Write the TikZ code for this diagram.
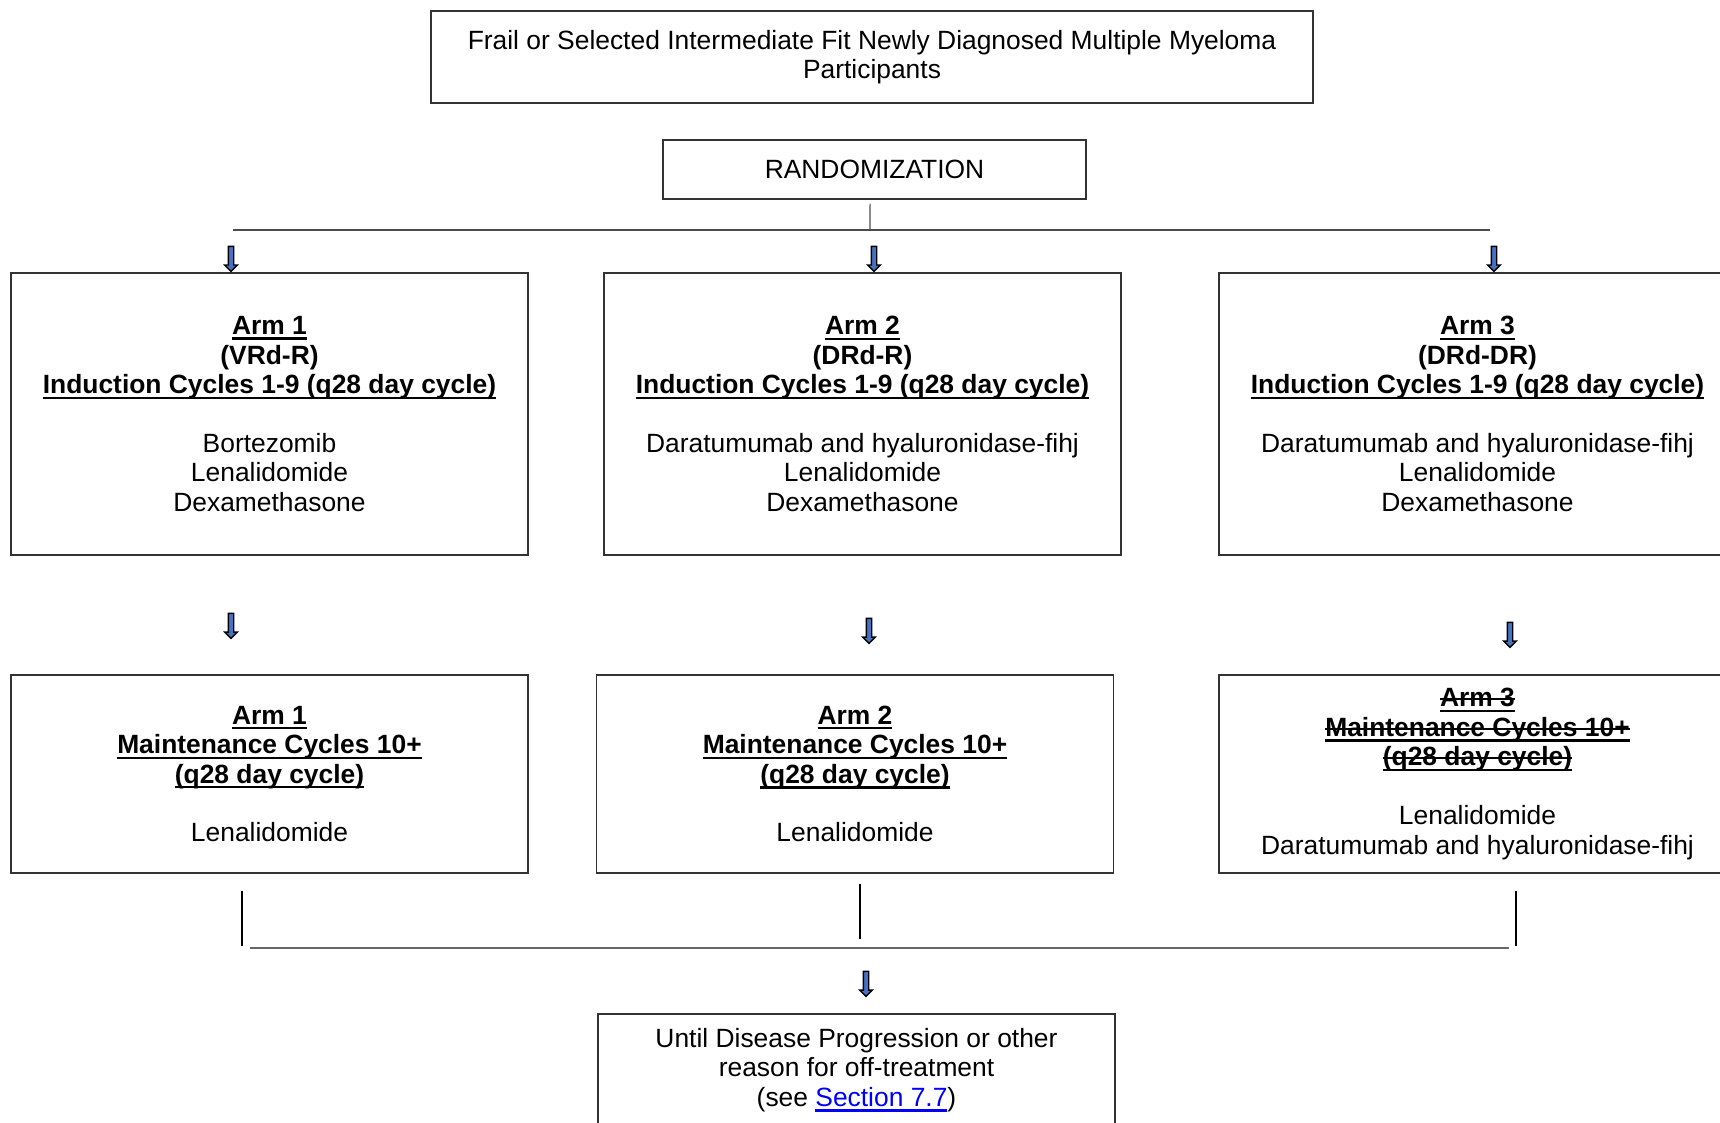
\documentclass[tikz,border=0pt]{standalone}
\usepackage{fontspec}
\setmainfont{Liberation Sans}
\usetikzlibrary{positioning,shapes.arrows}
\definecolor{armblue}{HTML}{4472C4}
\newcommand{\ulinebox}[1]{\sbox0{#1}\rlap{\usebox0}\rule[-2.6pt]{\wd0}{1.1pt}}
\newcommand{\armhead}[1]{\ulinebox{\textbf{#1}}}
\newcommand{\armstruck}[1]{\sbox0{\textbf{#1}}\rlap{\armhead{#1}}\rule[0.25em]{\wd0}{1pt}}
\tikzset{
  box/.style={draw=black!80, line width=0.7pt, align=center, inner sep=0pt},
  downarrow/.style={single arrow, draw=black, fill=armblue, line width=0.7pt,
    minimum height=12.5pt, inner sep=1pt, single arrow head extend=1.8pt, rotate=-90},
  thinline/.style={draw=black!70, line width=0.6pt},
  joinline/.style={draw=black!60, line width=1.4pt}
}

\begin{document}
\begin{tikzpicture}[x=0.5pt, y=-0.5pt, font=\fontsize{13.2}{14.8}\selectfont]
                   \useasboundingbox (0,0) rectangle (1720,1123);
                   \clip (0,0) rectangle (1720,1123);

                   \node[box, minimum width=441pt, minimum height=46pt] (pop) at (872,57)
                        {Frail or Selected Intermediate Fit Newly Diagnosed Multiple Myeloma\\Participants};
                   \node[box, minimum width=211.5pt, minimum height=29.5pt] (rand) at (874.5,169.5) {RANDOMIZATION};

                   \node[box, minimum width=258.5pt, minimum height=141pt] (ind_1) at (269.5,414)
                        {\armhead{Arm 1}\\\textbf{(VRd-R)}\\\armhead{Induction Cycles 1-9 (q28 day cycle)}\\[14.5pt]
                         Bortezomib\\Lenalidomide\\Dexamethasone};
                   \node[box, minimum width=258.5pt, minimum height=141pt] (ind_2) at (862.5,414)
                        {\armhead{Arm 2}\\\textbf{(DRd-R)}\\\armhead{Induction Cycles 1-9 (q28 day cycle)}\\[14.5pt]
                         Daratumumab and hyaluronidase-fihj\\Lenalidomide\\Dexamethasone};
                   \node[box, minimum width=258.5pt, minimum height=141pt] (ind_3) at (1477.5,414)
                        {\armhead{Arm 3}\\\textbf{(DRd-DR)}\\\armhead{Induction Cycles 1-9 (q28 day cycle)}\\[14.5pt]
                         Daratumumab and hyaluronidase-fihj\\Lenalidomide\\Dexamethasone};

                   \node[box, minimum width=258.5pt, minimum height=99pt] (maint_1) at (269.5,774)
                        {\armhead{Arm 1}\\\armhead{Maintenance Cycles 10+}\\\armhead{(q28 day cycle)}\\[14.5pt]Lenalidomide};
                   \node[box, minimum width=258.5pt, minimum height=99pt] (maint_2) at (855,774)
                        {\armhead{Arm 2}\\\armhead{Maintenance Cycles 10+}\\\armhead{(q28 day cycle)}\\[14.5pt]Lenalidomide};
                   \node[box, minimum width=258.5pt, minimum height=99pt] (maint_3) at (1477.5,774)
                        {\armstruck{Arm 3}\\\armstruck{Maintenance Cycles 10+}\\\armstruck{(q28 day cycle)}\\[14.5pt]
                         Lenalidomide\\Daratumumab and hyaluronidase-fihj};

                   \node[box, minimum width=258.5pt, minimum height=56pt] (offtx) at (856.5,1070)
                        {Until Disease Progression or other\\reason for off-treatment\\
                         (see {\color{blue}\ulinebox{Section 7.7}})};

                   \node[downarrow] (arr_i1) at (231,257.5) {};
                   \node[downarrow] (arr_i2) at (874,257.5) {};
                   \node[downarrow] (arr_i3) at (1494,257.5) {};
                   \node[downarrow] (arr_m1) at (231,624.5) {};
                   \node[downarrow] (arr_m2) at (869,629.5) {};
                   \node[downarrow] (arr_m3) at (1510,633.5) {};
                   \node[downarrow] (arr_end) at (866,982.5) {};

                   \coordinate (split_l) at (233,230);
                   \coordinate (split_c) at (870,230);
                   \coordinate (split_r) at (1490,230);
                   \coordinate (from_1) at (242,891);
                   \coordinate (from_2) at (860,884);
                   \coordinate (from_3) at (1516,891);
                   \coordinate (to_1) at (242,946);
                   \coordinate (to_2) at (860,939);
                   \coordinate (to_3) at (1516,946);
                   \coordinate (join_l) at (250,948);
                   \coordinate (join_r) at (1509,948);

                    \path[thinline]
                    ([xshift=-2.2pt,yshift=-2pt]rand.south) edge (split_c)
                    (split_l) edge (split_r);
                    \path[draw=black, line width=0.6pt]
                    (from_1) edge (to_1)
                    (from_2) edge (to_2)
                    (from_3) edge (to_3);
                    \path[joinline] (join_l) edge (join_r);
                \end{tikzpicture}
\end{document}
